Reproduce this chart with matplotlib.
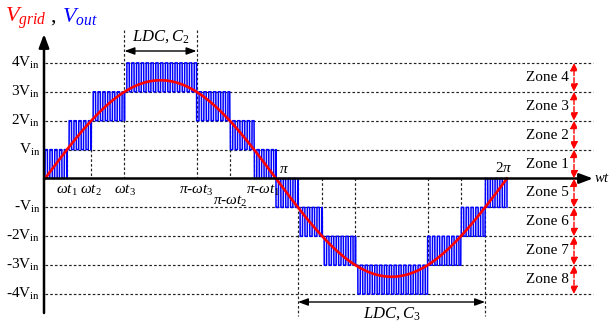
import numpy as np
import matplotlib
matplotlib.use("Agg")
import matplotlib.pyplot as plt

plt.rcParams['font.family'] = ['Liberation Serif', 'DejaVu Serif']
plt.rcParams['mathtext.fontset'] = 'custom'
plt.rcParams['mathtext.rm'] = 'Liberation Serif'
plt.rcParams['mathtext.it'] = 'Liberation Serif:italic'
plt.rcParams['mathtext.bf'] = 'Liberation Serif:bold'

# ---------------- data ----------------
amplitude = 3.4                 # peak of grid voltage, in Vin units
carrier_periods = 96            # switching periods per fundamental cycle
levels = [4, 3, 2, 1, -1, -2, -3, -4]
level_labels = ["4V$_{\\rm in}$", "3V$_{\\rm in}$", "2V$_{\\rm in}$", "V$_{\\rm in}$",
                "-V$_{\\rm in}$", "-2V$_{\\rm in}$", "-3V$_{\\rm in}$", "-4V$_{\\rm in}$"]
zone_labels = ["Zone 4", "Zone 3", "Zone 2", "Zone 1",
               "Zone 5", "Zone 6", "Zone 7", "Zone 8"]
zone_lo = [3, 2, 1, 0, -1, -2, -3, -4]
zone_hi = [4, 3, 2, 1, 0, -1, -2, -3]
time_labels = [r"$\omega t_1$", r"$\omega t_2$", r"$\omega t_3$",
               r"$\pi$-$\omega t_3$", r"$\pi$-$\omega t_2$", r"$\pi$-$\omega t_1$"]
ldc_labels = [r"$LDC,C_2$", r"$LDC,C_3$"]

# switching angles where grid voltage crosses the levels
t1, t2, t3 = [np.arcsin(k / amplitude) for k in (1, 2, 3)]
PI = np.pi

# ---------------- figure ----------------
W, H = 611, 329
fig = plt.figure(figsize=(W / 100, H / 100), dpi=100)
ax = fig.add_axes([0, 0, 1, 1])
x0px, pxr = 45.0, 73.53      # origin pixel, pixels per rad
y0px, pxv = 178.5, 28.9      # zero-line pixel, pixels per Vin
ax.set_xlim(-x0px / pxr, (W - x0px) / pxr)
ax.set_ylim(-(H - y0px) / pxv, y0px / pxv)
ax.axis('off')

def X(px):
    return (px - x0px) / pxr

def Y(py):
    return (y0px - py) / pxv

dash = (0, (2.2, 1.8))
# horizontal level grid lines
for lv in levels:
    ax.plot([0, X(593)], [lv, lv], color='#222222', lw=0.85, ls=dash, zorder=1)

# vertical dashed lines
top, bot = Y(30), Y(316)
vlines = [(t1, 1, 0), (t2, 2, 0), (t3, top, 0), (PI - t3, top, 0), (PI - t2, 2, 0), (PI - t1, 1, 0),
          (PI + t1, 0, bot), (PI + t2, 0, -2), (PI + t3, 0, -3),
          (2 * PI - t3, 0, -3), (2 * PI - t2, 0, -2), (2 * PI - t1, 0, bot)]
for xv, ya, yb in vlines:
    ax.plot([xv, xv], [ya, yb], color='#222222', lw=0.85, ls=dash, zorder=1)

# multilevel PWM output
t = np.linspace(0, 2 * PI, 80001)
v = amplitude * np.sin(t)
phase = (t * carrier_periods / (2 * PI)) % 1.0
high = (phase < 0.5).astype(float)
k = np.clip(np.floor(np.abs(v)), 0, 3)
vout = np.sign(v) * (k + high)
ax.plot(t, vout, color='#0000ff', lw=1.1, zorder=3)

# grid voltage
ax.plot(t, v, color='#ff0000', lw=1.9, zorder=4)

# axes with arrows
ax.annotate('', xy=(X(593), 0), xytext=(X(44), 0),
            arrowprops=dict(arrowstyle='-|>,head_length=0.8,head_width=0.3', lw=1.8,
                            color='k', shrinkA=0, shrinkB=0), zorder=5)
ax.annotate('', xy=(X(44), Y(34)), xytext=(X(44), Y(313)),
            arrowprops=dict(arrowstyle='-|>,head_length=0.8,head_width=0.3', lw=1.8,
                            color='k', shrinkA=0, shrinkB=0), zorder=5)

# level labels
for lv, lab in zip(levels, level_labels):
    ax.text(X(40), lv, lab, ha='right', va='center', fontsize=11)

# time labels
tl_pos = [(t1, -0.42), (t2, -0.42), (t3, -0.42), (PI - t3, -0.42), (PI - t2, -0.8), (X(263), -0.42)]
for (xp, yp), lab in zip(tl_pos, time_labels):
    ax.text(xp, yp, lab, ha='center', va='center', fontsize=11)
ax.text(X(284), 0.32, r"$\pi$", ha='center', va='center', fontsize=11)
ax.text(X(504), 0.35, r"$2\pi$", ha='center', va='center', fontsize=11)
ax.text(X(594), 0, r"$wt$", ha='left', va='center', fontsize=10.5)

# zones with red double arrows
xa = X(574)
for lo, hi, lab in zip(zone_lo, zone_hi, zone_labels):
    ax.annotate('', xy=(xa, hi), xytext=(xa, lo),
                arrowprops=dict(arrowstyle='<|-|>,head_length=0.45,head_width=0.22',
                                lw=1.0, ls='--', color='#ff0000', shrinkA=0, shrinkB=0),
                zorder=5)
    ax.text(X(569), (lo + hi) / 2, lab, ha='right', va='center', fontsize=11)

# LDC arrows
arr = dict(arrowstyle='<|-|>,head_length=0.6,head_width=0.22', lw=1.0, color='k',
           shrinkA=0, shrinkB=0)
ax.annotate('', xy=(PI - t3, Y(51)), xytext=(t3, Y(51)), arrowprops=arr)
ax.text((t3 + PI - t3) / 2, Y(37), ldc_labels[0], ha='center', va='center', fontsize=12)
ax.annotate('', xy=(2 * PI - t1, Y(302)), xytext=(PI + t1, Y(302)), arrowprops=arr)
ax.text(X(392), Y(314), ldc_labels[1], ha='center', va='center', fontsize=12)

# title
fig.text(5 / W, 1 - 22 / H, r"$V_{grid}$", color='#ff0000', fontsize=16, ha='left', va='baseline')
fig.text(50 / W, 1 - 22 / H, ",", color='k', fontsize=16, ha='left', va='baseline')
fig.text(62 / W, 1 - 22 / H, r"$V_{out}$", color='#0000ff', fontsize=16, ha='left', va='baseline')

fig.savefig('out.png', dpi=100)
